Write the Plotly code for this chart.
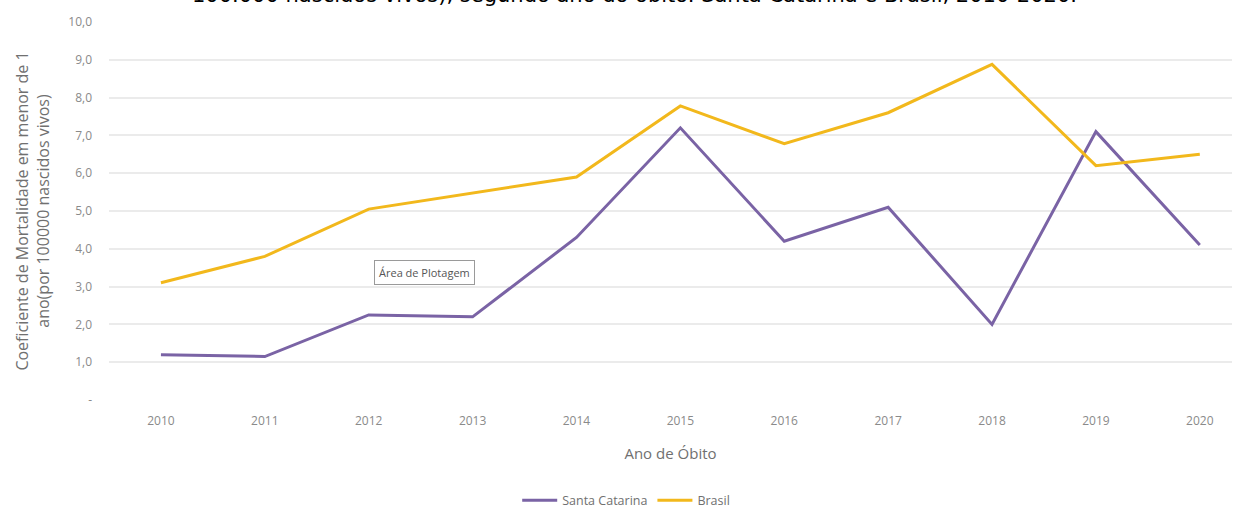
import plotly.graph_objects as go

# Ano de óbito
anos = ["2010", "2011", "2012", "2013", "2014", "2015", "2016", "2017", "2018", "2019", "2020"]

# Coeficiente de mortalidade em menor de 1 ano (por 100.000 nascidos vivos)
santa_catarina = [1.2, 1.15, 2.25, 2.2, 4.3, 7.2, 4.2, 5.1, 2.0, 7.1, 4.1]
brasil = [3.1, 3.8, 5.05, 5.48, 5.9, 7.78, 6.78, 7.6, 8.88, 6.2, 6.5]

y_ticks = [0, 1, 2, 3, 4, 5, 6, 7, 8, 9, 10]
y_ticktext = ["-", "1,0", "2,0", "3,0", "4,0", "5,0", "6,0", "7,0", "8,0", "9,0", "10,0"]

COR_SC = "#7A63A5"
COR_BR = "#F2B81C"
CINZA = "#8a8a8a"
FONTE = "Open Sans, Noto Sans, sans-serif"

fig = go.Figure()
fig.add_trace(go.Scatter(x=anos, y=santa_catarina, mode="lines", name="Santa Catarina",
                         line=dict(color=COR_SC, width=3)))
fig.add_trace(go.Scatter(x=anos, y=brasil, mode="lines", name="Brasil",
                         line=dict(color=COR_BR, width=3)))

fig.update_layout(
    width=1240, height=512,
    margin=dict(l=109, r=8, t=22, b=112),
    paper_bgcolor="white", plot_bgcolor="white",
    font=dict(family=FONTE, color=CINZA),
    showlegend=True,
    legend=dict(orientation="h", x=0.505, xanchor="center", xref="container",
                y=0.022, yanchor="middle", yref="container",
                font=dict(size=12.5, color="#707070"), itemwidth=35,
                tracegroupgap=0, bgcolor="rgba(0,0,0,0)"),
    xaxis=dict(type="category", range=[-0.5, 10.31], showgrid=False, zeroline=False,
               showline=False, ticks="", ticklabelstandoff=12,
               tickfont=dict(size=12, color=CINZA),
               title=dict(text="Ano de Óbito", font=dict(size=15, color="#707070"), standoff=20)),
    yaxis=dict(range=[0, 10], tickvals=y_ticks, ticktext=y_ticktext,
               showgrid=True, gridcolor="#ebebeb", gridwidth=2, zeroline=False,
               showline=False, ticks="", ticklabelstandoff=16,
               tickfont=dict(size=12, color=CINZA),
               title=dict(text="Coeficiente de Mortalidade em menor de 1<br>ano(por 100000 nascidos vivos)",
                          font=dict(size=16, color="#707070"), standoff=14)),
)

# Título (linha final, parcialmente fora do topo da página)
fig.add_annotation(
    text="100.000 nascidos vivos), segundo ano do óbito. Santa Catarina e Brasil, 2010-2020.",
    xref="paper", yref="paper", x=0.468, y=1, xanchor="center", yanchor="bottom",
    yshift=13, showarrow=False, font=dict(size=21, color="black", family="DejaVu Sans, sans-serif"),
)

# Rótulo da área de plotagem
fig.add_annotation(
    text="Área de Plotagem", xref="x", yref="y", x=2.54, y=3.36, xanchor="center", yanchor="middle",
    showarrow=False, font=dict(size=11, color="#555555"), bgcolor="white",
    bordercolor="#9a9a9a", borderwidth=1, borderpad=4,
)

fig.write_html("out.html")
